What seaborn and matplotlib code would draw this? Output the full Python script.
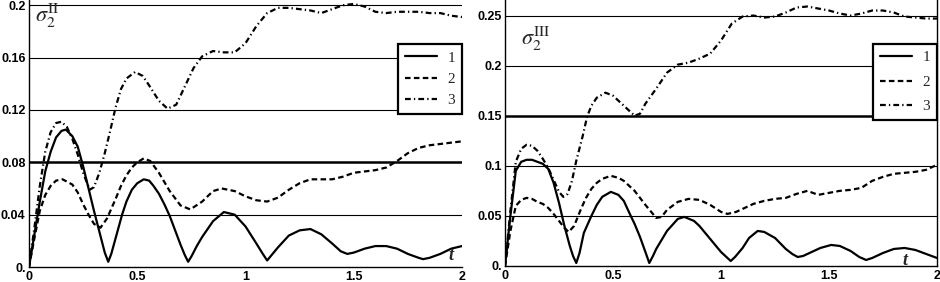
import matplotlib
matplotlib.use("Agg")
import matplotlib.pyplot as plt
import seaborn as sns

sns.set_style("white")
plt.rcParams["font.family"] = ["Liberation Sans", "DejaVu Sans"]
plt.rcParams["mathtext.fontset"] = "stix"

# ---- left panel (sigma_2^II) ----
t1_left = [0, 0.025, 0.05, 0.075, 0.1, 0.125, 0.15, 0.17, 0.2, 0.225, 0.25, 0.275, 0.3, 0.325,
           0.35, 0.366, 0.38, 0.4, 0.43, 0.45, 0.475, 0.5, 0.53, 0.555, 0.575, 0.6, 0.625, 0.65,
           0.675, 0.7, 0.72, 0.735, 0.75, 0.775, 0.8, 0.85, 0.9, 0.95, 1.0, 1.05, 1.08, 1.1, 1.12,
           1.15, 1.2, 1.25, 1.3, 1.35, 1.4, 1.44, 1.47, 1.5, 1.55, 1.6, 1.65, 1.7, 1.75, 1.8,
           1.82, 1.85, 1.9, 1.95, 2.0]
s1_left = [0, 0.025, 0.05, 0.073, 0.088, 0.099, 0.104, 0.105, 0.100, 0.092, 0.077, 0.060, 0.043,
           0.027, 0.011, 0.004, 0.010, 0.022, 0.040, 0.050, 0.059, 0.064, 0.067, 0.066, 0.062,
           0.056, 0.048, 0.039, 0.028, 0.017, 0.009, 0.004, 0.008, 0.016, 0.023, 0.035, 0.042,
           0.040, 0.031, 0.018, 0.010, 0.005, 0.009, 0.015, 0.024, 0.028, 0.029, 0.025, 0.018,
           0.012, 0.010, 0.011, 0.014, 0.016, 0.016, 0.014, 0.010, 0.007, 0.006, 0.007, 0.010,
           0.014, 0.016]

t2_left = [0, 0.025, 0.05, 0.075, 0.1, 0.125, 0.155, 0.2, 0.225, 0.25, 0.275, 0.3, 0.33, 0.36,
           0.4, 0.425, 0.45, 0.475, 0.5, 0.53, 0.56, 0.6, 0.65, 0.7, 0.745, 0.8, 0.85, 0.89, 0.95,
           1.0, 1.05, 1.1, 1.15, 1.2, 1.25, 1.3, 1.35, 1.4, 1.45, 1.5, 1.55, 1.6, 1.65, 1.7, 1.75,
           1.8, 1.85, 1.9, 1.95, 2.0]
s2_left = [0, 0.022, 0.043, 0.055, 0.062, 0.066, 0.067, 0.063, 0.057, 0.048, 0.040, 0.033, 0.030,
           0.037, 0.052, 0.062, 0.070, 0.076, 0.080, 0.083, 0.081, 0.072, 0.058, 0.047, 0.044,
           0.050, 0.058, 0.060, 0.058, 0.054, 0.051, 0.050, 0.053, 0.059, 0.064, 0.067, 0.067,
           0.067, 0.069, 0.072, 0.073, 0.074, 0.076, 0.081, 0.087, 0.091, 0.093, 0.094, 0.095,
           0.096]

t3_left = [0, 0.025, 0.05, 0.075, 0.1, 0.125, 0.15, 0.175, 0.2, 0.225, 0.25, 0.28, 0.3, 0.325,
           0.35, 0.375, 0.4, 0.425, 0.45, 0.49, 0.525, 0.55, 0.6, 0.64, 0.68, 0.72, 0.76, 0.8,
           0.85, 0.9, 0.95, 1.0, 1.05, 1.1, 1.15, 1.2, 1.25, 1.3, 1.35, 1.4, 1.45, 1.5, 1.55, 1.6,
           1.65, 1.7, 1.75, 1.8, 1.85, 1.9, 1.95, 2.0]
s3_left = [0, 0.030, 0.062, 0.088, 0.103, 0.110, 0.111, 0.107, 0.098, 0.086, 0.072, 0.059, 0.061,
           0.072, 0.087, 0.104, 0.122, 0.136, 0.144, 0.149, 0.146, 0.140, 0.127, 0.121, 0.124,
           0.138, 0.152, 0.161, 0.165, 0.164, 0.164, 0.171, 0.184, 0.194, 0.198, 0.198, 0.197,
           0.196, 0.194, 0.197, 0.200, 0.201, 0.199, 0.195, 0.194, 0.195, 0.195, 0.195, 0.194,
           0.194, 0.192, 0.191]

# ---- right panel (sigma_2^III) ----
t1_right = [0, 0.025, 0.05, 0.075, 0.1, 0.125, 0.15, 0.175, 0.2, 0.225, 0.25, 0.275, 0.3, 0.315,
            0.33, 0.345, 0.365, 0.4, 0.425, 0.45, 0.49, 0.525, 0.55, 0.58, 0.6, 0.625, 0.65,
            0.668, 0.685, 0.7, 0.75, 0.8, 0.83, 0.875, 0.9, 0.95, 1.0, 1.025, 1.045, 1.065, 1.1,
            1.13, 1.17, 1.2, 1.25, 1.3, 1.33, 1.355, 1.38, 1.42, 1.46, 1.51, 1.55, 1.6, 1.64,
            1.672, 1.7, 1.75, 1.8, 1.85, 1.9, 1.95, 2.0]
s1_right = [0, 0.050, 0.095, 0.104, 0.106, 0.106, 0.104, 0.102, 0.097, 0.083, 0.063, 0.040, 0.020,
            0.010, 0.003, 0.013, 0.033, 0.050, 0.061, 0.069, 0.074, 0.071, 0.065, 0.051, 0.042,
            0.029, 0.014, 0.003, 0.010, 0.017, 0.035, 0.047, 0.049, 0.045, 0.040, 0.027, 0.014,
            0.009, 0.005, 0.009, 0.018, 0.028, 0.035, 0.034, 0.028, 0.017, 0.012, 0.009, 0.010,
            0.014, 0.018, 0.021, 0.020, 0.015, 0.009, 0.006, 0.008, 0.013, 0.017, 0.018, 0.016,
            0.012, 0.008]

t2_right = [0, 0.025, 0.05, 0.075, 0.1, 0.125, 0.15, 0.175, 0.2, 0.225, 0.25, 0.275, 0.295, 0.32,
            0.35, 0.375, 0.4, 0.425, 0.45, 0.49, 0.525, 0.55, 0.6, 0.65, 0.7, 0.725, 0.75, 0.8,
            0.85, 0.9, 0.95, 1.0, 1.03, 1.07, 1.1, 1.15, 1.2, 1.25, 1.3, 1.35, 1.4, 1.45, 1.5,
            1.55, 1.6, 1.65, 1.7, 1.75, 1.8, 1.85, 1.9, 1.95, 2.0]
s2_right = [0, 0.035, 0.060, 0.066, 0.068, 0.067, 0.064, 0.062, 0.058, 0.052, 0.045, 0.038, 0.034,
            0.040, 0.056, 0.068, 0.077, 0.083, 0.087, 0.090, 0.088, 0.085, 0.075, 0.061, 0.048,
            0.049, 0.056, 0.064, 0.067, 0.066, 0.061, 0.054, 0.052, 0.054, 0.057, 0.062, 0.065,
            0.067, 0.068, 0.072, 0.075, 0.071, 0.073, 0.075, 0.076, 0.078, 0.085, 0.089, 0.092,
            0.093, 0.094, 0.096, 0.101]

t3_right = [0, 0.025, 0.05, 0.075, 0.1, 0.125, 0.15, 0.175, 0.2, 0.225, 0.25, 0.27, 0.29, 0.31,
            0.33, 0.36, 0.38, 0.4, 0.425, 0.465, 0.5, 0.55, 0.6, 0.625, 0.65, 0.7, 0.75, 0.8, 0.85,
            0.9, 0.95, 1.0, 1.05, 1.1, 1.15, 1.2, 1.25, 1.3, 1.35, 1.4, 1.45, 1.5, 1.55, 1.6, 1.65,
            1.7, 1.75, 1.8, 1.85, 1.9, 1.95, 2.0]
s3_right = [0, 0.055, 0.104, 0.117, 0.121, 0.120, 0.115, 0.107, 0.098, 0.086, 0.074, 0.069, 0.072,
            0.085, 0.105, 0.130, 0.149, 0.160, 0.168, 0.173, 0.170, 0.160, 0.150, 0.152, 0.162,
            0.177, 0.193, 0.201, 0.203, 0.207, 0.212, 0.225, 0.242, 0.249, 0.250, 0.248, 0.249,
            0.253, 0.258, 0.259, 0.257, 0.255, 0.252, 0.250, 0.252, 0.255, 0.255, 0.253, 0.249,
            0.248, 0.247, 0.247]

legend_labels = ["1", "2", "3"]
x_ticks = [0, 0.5, 1, 1.5, 2]
x_ticklabels = ["0", "0.5", "1", "1.5", "2"]
y_ticks_left = [0, 0.04, 0.08, 0.12, 0.16, 0.2]
y_ticklabels_left = ["0.", "0.04", "0.08", "0.12", "0.16", "0.2"]
y_ticks_right = [0, 0.05, 0.1, 0.15, 0.2, 0.25]
y_ticklabels_right = ["0.", "0.05", "0.1", "0.15", "0.2", "0.25"]

styles = ["-", (0, (2.5, 1.5)), (0, (2.6, 1.4, 0.6, 1.4))]


def draw_panel(ax, series, ytop, yticks, ylabels, thick_y, sigma, sigma_xy, t_xy, spacing):
    for (t, v), ls, lab in zip(series, styles, legend_labels):
        sns.lineplot(x=t, y=v, ax=ax, color="black", linestyle=ls, linewidth=1.6,
                     label=lab, sort=False)
    for y in yticks[1:]:
        ax.axhline(y, color="black", lw=1.8 if y == thick_y else 0.8, zorder=1)
    ax.set_xlim(0, 2)
    ax.set_ylim(0, ytop)
    ax.set_xticks(x_ticks)
    ax.set_xticklabels(x_ticklabels, fontsize=9, fontweight="bold")
    ax.set_yticks(yticks)
    ax.set_yticklabels(ylabels, fontsize=9, fontweight="bold")
    ax.tick_params(axis="x", direction="in", length=3, width=1, pad=3, colors="black")
    ax.tick_params(axis="y", length=0, pad=2.5, colors="black")
    ax.set_xlabel("")
    ax.set_ylabel("")
    for side in ["left", "bottom"]:
        ax.spines[side].set_color("black")
        ax.spines[side].set_linewidth(1.0)
    ax.spines["top"].set_visible(False)

    ax.text(sigma_xy[0], sigma_xy[1], sigma, transform=ax.transAxes, fontsize=16,
            ha="left", va="top")
    ax.text(t_xy[0], t_xy[1], "t", transform=ax.transAxes, fontsize=13,
            family="Liberation Serif", style="italic", weight="bold",
            ha="center", va="bottom")

    leg = ax.legend(loc="upper right", bbox_to_anchor=(1.0, 0.835), frameon=True,
                    fancybox=False, edgecolor="black", framealpha=1, borderaxespad=0,
                    prop={"family": "Liberation Serif", "size": 11},
                    handlelength=2.1, labelspacing=spacing, borderpad=0.45,
                    handletextpad=0.7)
    leg.get_frame().set_linewidth(1.6)


fig = plt.figure(figsize=(9.4, 2.82), dpi=100)
ax_left = fig.add_axes([29 / 940, 15 / 282, 433 / 940, 267 / 282])
ax_right = fig.add_axes([505 / 940, 16 / 282, 432 / 940, 266 / 282])

draw_panel(ax_left,
           [(t1_left, s1_left), (t2_left, s2_left), (t3_left, s3_left)],
           0.204, y_ticks_left, y_ticklabels_left, 0.08,
           r"$\sigma_2^{\mathrm{II}}$", (0.014, 0.995), (0.975, 0.012), 0.5)
ax_left.spines["right"].set_visible(False)

draw_panel(ax_right,
           [(t1_right, s1_right), (t2_right, s2_right), (t3_right, s3_right)],
           0.2655, y_ticks_right, y_ticklabels_right, 0.15,
           r"$\sigma_2^{\mathrm{III}}$", (0.036, 0.905), (0.926, -0.01), 0.7)
ax_right.spines["right"].set_color("black")
ax_right.spines["right"].set_linewidth(1.0)

fig.savefig("out.png", dpi=100)
